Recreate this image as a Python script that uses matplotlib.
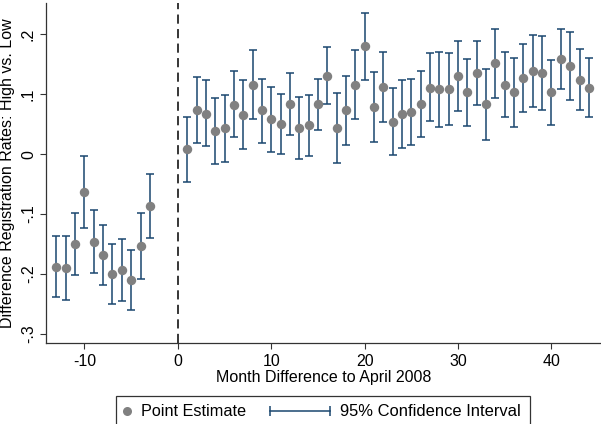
import matplotlib
matplotlib.use("Agg")
import matplotlib.pyplot as plt
from matplotlib.lines import Line2D
from matplotlib.patches import Rectangle
import numpy as np

plt.rcParams['font.family'] = ['Liberation Sans', 'DejaVu Sans']
plt.rcParams['axes.unicode_minus'] = False

months = [-13, -12, -11, -10, -9, -8, -7, -6, -5, -4, -3] + list(range(1, 45))

estimate = [-0.188, -0.190, -0.150, -0.063, -0.146, -0.168, -0.200, -0.193, -0.210, -0.154, -0.087,
            0.008, 0.074, 0.067, 0.038, 0.043, 0.082, 0.066, 0.116, 0.073, 0.058,
            0.051, 0.083, 0.044, 0.048, 0.083, 0.131, 0.044, 0.073, 0.116, 0.180,
            0.079, 0.112, 0.054, 0.067, 0.071, 0.083, 0.111, 0.108, 0.108, 0.130,
            0.103, 0.136, 0.083, 0.152, 0.116, 0.103, 0.127, 0.138, 0.135, 0.103,
            0.158, 0.147, 0.124, 0.111]

ci_upper = [-0.137, -0.137, -0.098, -0.003, -0.094, -0.118, -0.150, -0.141, -0.160, -0.098, -0.033,
            0.062, 0.129, 0.123, 0.093, 0.098, 0.138, 0.123, 0.173, 0.125, 0.112,
            0.101, 0.136, 0.096, 0.099, 0.126, 0.179, 0.102, 0.130, 0.173, 0.236,
            0.137, 0.171, 0.111, 0.124, 0.126, 0.139, 0.168, 0.171, 0.168, 0.188,
            0.159, 0.188, 0.142, 0.208, 0.170, 0.160, 0.184, 0.198, 0.197, 0.157,
            0.209, 0.204, 0.175, 0.161]

ci_lower = [-0.238, -0.244, -0.201, -0.123, -0.198, -0.218, -0.250, -0.245, -0.260, -0.209, -0.140,
            -0.046, 0.018, 0.013, -0.017, -0.013, 0.028, 0.009, 0.058, 0.018, 0.003,
            0.001, 0.032, -0.008, -0.003, 0.041, 0.083, -0.014, 0.016, 0.059, 0.123,
            0.021, 0.054, -0.002, 0.011, 0.016, 0.028, 0.056, 0.045, 0.048, 0.072,
            0.047, 0.082, 0.024, 0.094, 0.062, 0.046, 0.071, 0.079, 0.074, 0.048,
            0.108, 0.090, 0.073, 0.062]

yticks = [-0.3, -0.2, -0.1, 0, 0.1, 0.2]
yticklabels = ['-.3', '-.2', '-.1', '0', '.1', '.2']
xticks = [-10, 0, 10, 20, 30, 40]
legend_labels = ['Point Estimate', '95% Confidence Interval']

navy = '#1a476f'
gray = '#808080'

W, H = 601, 424
fig = plt.figure(figsize=(W / 100, H / 100), dpi=100)
ax = fig.add_axes([45.7 / W, 1 - 343.3 / H, 1 - 45.7 / W, (343.3 - 3) / H])

x = np.array(months)
est = np.array(estimate)
lo = np.array(ci_lower)
hi = np.array(ci_upper)

ax.errorbar(x, est, yerr=[est - lo, hi - est], fmt='none', ecolor=navy,
            elinewidth=1.1, capsize=3.2, capthick=1.1, zorder=2)
ax.plot(x, est, 'o', color=gray, markersize=6.8, markeredgewidth=0, zorder=3)

ax.axvline(0, color='black', linestyle=(0, (6, 3.5)), linewidth=1.1, zorder=1)

ax.set_xlim(-14.15, 45.3)
ax.set_ylim(-0.3155, 0.252)
ax.set_yticks(yticks)
ax.set_yticklabels(yticklabels, rotation=90, va='center')
ax.set_xticks(xticks)
ax.tick_params(axis='both', labelsize=11.5, length=4, width=0.8, color='#333333', direction='out')
ax.tick_params(axis='y', pad=3)

for s in ['top', 'right']:
    ax.spines[s].set_visible(False)
for s in ['left', 'bottom']:
    ax.spines[s].set_color('#333333')
    ax.spines[s].set_linewidth(0.9)

ax.set_xlabel('Month Difference to April 2008', fontsize=11.5, labelpad=1)
ax.set_ylabel('Difference Registration Rates: High vs. Low', fontsize=11.5, labelpad=4)

# Manual legend box (figure pixel coordinates converted to fractions)
def fx(px):
    return px / W

def fy(py):
    return 1 - py / H

fig.add_artist(Rectangle((fx(115.7), fy(427)), fx(530) - fx(115.7), fy(395.7) - fy(427),
                         transform=fig.transFigure, fill=False, edgecolor='#333333',
                         linewidth=0.9))
ly = 411
fig.add_artist(Line2D([fx(127)], [fy(ly)], transform=fig.transFigure, marker='o',
                      linestyle='none', color=gray, markersize=6.5, markeredgewidth=0))
fig.text(fx(141), fy(ly), legend_labels[0], fontsize=11.7, va='center', ha='left')
fig.add_artist(Line2D([fx(270), fx(330)], [fy(ly), fy(ly)], transform=fig.transFigure,
                      color=navy, linewidth=1.1))
fig.add_artist(Line2D([fx(270), fx(330)], [fy(ly), fy(ly)], transform=fig.transFigure,
                      linestyle='none', marker='|', color=navy, markersize=6.5,
                      markeredgewidth=1.1))
fig.text(fx(339.5), fy(ly), legend_labels[1], fontsize=11.9, va='center', ha='left')

fig.savefig('out.png', dpi=100)
